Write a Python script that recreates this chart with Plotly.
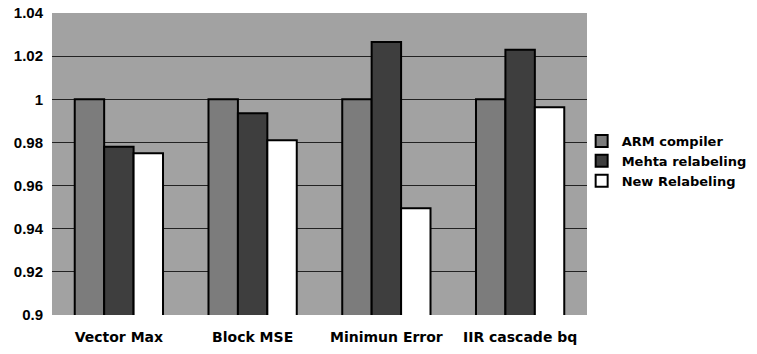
import plotly.graph_objects as go

categories = ["Vector Max", "Block MSE", "Minimun Error", "IIR cascade bq"]
series_names = ["ARM compiler", "Mehta relabeling", "New Relabeling"]
arm_values = [1.0, 1.0, 1.0, 1.0]
mehta_values = [0.978, 0.9935, 1.0265, 1.023]
new_values = [0.975, 0.981, 0.9495, 0.9963]
y_ticks = [0.9, 0.92, 0.94, 0.96, 0.98, 1.0, 1.02, 1.04]
y_tick_labels = ["0.9", "0.92", "0.94", "0.96", "0.98", "1", "1.02", "1.04"]

colors = ["#7c7c7c", "#3e3e3e", "#ffffff"]
values = [arm_values, mehta_values, new_values]

fig = go.Figure()
for name, vals, col in zip(series_names, values, colors):
    fig.add_trace(go.Bar(
        x=categories, y=vals, name=name,
        marker=dict(color=col, line=dict(color="black", width=2)),
    ))

fig.update_layout(
    width=757, height=354,
    margin=dict(l=52, r=170, t=13, b=39, autoexpand=False),
    paper_bgcolor="white",
    plot_bgcolor="#a2a2a2",
    barmode="group",
    bargap=0.34,
    bargroupgap=0,
    font=dict(family="Liberation Sans, Arial", color="black"),
    showlegend=True,
    legend=dict(
        x=0.99, xanchor="left", y=0.51, yanchor="middle",
        bgcolor="rgba(0,0,0,0)",
        font=dict(family="DejaVu Sans", size=13, color="black", weight="bold"),
        itemwidth=30,
        tracegroupgap=0,
    ),
    xaxis=dict(
        automargin=False,
        showgrid=False, showline=False, ticks="",
        tickfont=dict(family="DejaVu Sans", size=14, weight="bold"),
        ticklabelstandoff=12,
    ),
    yaxis=dict(
        automargin=False,
        range=[0.9, 1.04],
        tickvals=y_ticks, ticktext=y_tick_labels,
        showgrid=True, gridcolor="#222222", gridwidth=1,
        zeroline=False, showline=False, ticks="",
        tickfont=dict(family="Liberation Sans", size=15, weight="bold"),
        ticklabelstandoff=8,
        ticklabeloverflow="allow",
    ),
)

fig.write_html("out.html", config={"displayModeBar": False},
               post_script="document.body.style.margin='0';")
